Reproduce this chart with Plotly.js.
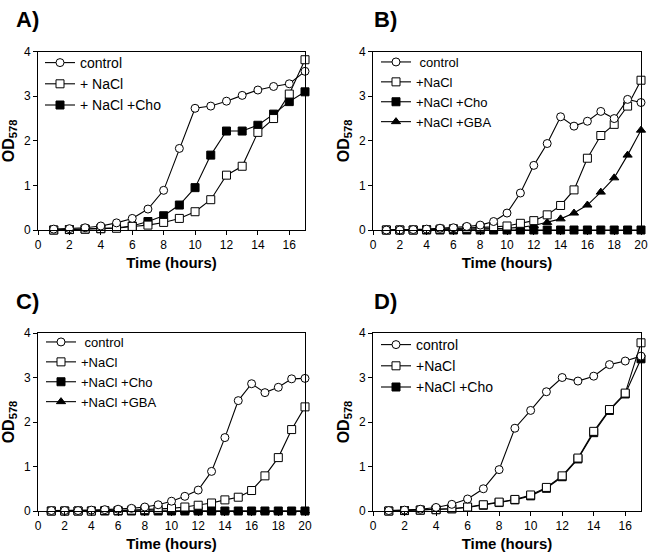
<!DOCTYPE html>
<html>
<head>
<meta charset="utf-8">
<script src="https://cdn.plot.ly/plotly-3.0.1.min.js"></script>
<style>html,body{margin:0;padding:0;background:#fff;}#chart{width:651px;height:555px;}</style>
</head>
<body>
<div id="chart"></div>
<script>
// ---- Data (OD578 readings) ----
const hoursA = [1,2,3,4,5,6,7,8,9,10,11,12,13,14,15,16,17];
const controlA = [0.02,0.03,0.05,0.09,0.16,0.26,0.47,0.89,1.83,2.73,2.78,2.89,3.02,3.14,3.22,3.28,3.56];
const naclA    = [0.00,0.01,0.02,0.03,0.04,0.08,0.11,0.17,0.26,0.41,0.68,1.23,1.43,2.19,2.50,3.05,3.82];
const choA     = [0.00,0.01,0.02,0.03,0.05,0.09,0.19,0.32,0.56,0.95,1.68,2.22,2.22,2.35,2.60,2.88,3.10];

const hoursB = [1,2,3,4,5,6,7,8,9,10,11,12,13,14,15,16,17,18,19,20];
const controlB = [0.00,0.00,0.01,0.02,0.04,0.05,0.08,0.11,0.19,0.38,0.83,1.45,1.94,2.54,2.33,2.44,2.66,2.50,2.93,2.86];
const naclB    = [0.00,0.00,0.00,0.01,0.02,0.03,0.04,0.05,0.07,0.09,0.15,0.21,0.34,0.55,0.90,1.61,2.12,2.37,2.78,3.36];
const choB     = [0.00,0.00,0.00,0.00,0.00,0.00,0.00,0.00,0.00,0.00,0.00,0.00,0.00,0.00,0.00,0.00,0.00,0.00,0.00,0.00];
const gbaB     = [0.00,0.00,0.00,0.00,0.01,0.01,0.02,0.02,0.03,0.04,0.06,0.10,0.17,0.25,0.38,0.56,0.85,1.17,1.68,2.24];

const hoursC = [1,2,3,4,5,6,7,8,9,10,11,12,13,14,15,16,17,18,19,20];
const controlC = [0.01,0.01,0.01,0.02,0.03,0.04,0.06,0.09,0.14,0.22,0.33,0.47,0.89,1.65,2.48,2.86,2.66,2.78,2.97,2.98];
const naclC    = [0.00,0.00,0.00,0.00,0.01,0.01,0.02,0.03,0.04,0.06,0.09,0.13,0.18,0.25,0.31,0.46,0.79,1.20,1.83,2.34];
const choC     = [0.00,0.00,0.00,0.00,0.00,0.00,0.00,0.00,0.00,0.00,0.00,0.00,0.00,0.00,0.00,0.00,0.00,0.00,0.00,0.00];
const gbaC     = [0.00,0.00,0.00,0.00,0.00,0.00,0.00,0.00,0.00,0.00,0.00,0.00,0.00,0.00,0.00,0.00,0.00,0.00,0.00,0.00];

const hoursD = [1,2,3,4,5,6,7,8,9,10,11,12,13,14,15,16,17];
const controlD = [0.01,0.02,0.04,0.08,0.15,0.27,0.50,0.93,1.86,2.26,2.68,3.00,2.92,3.03,3.29,3.37,3.48];
const naclD    = [0.00,0.01,0.02,0.03,0.05,0.09,0.14,0.20,0.26,0.36,0.53,0.79,1.19,1.79,2.28,2.65,3.78];
const choD     = [0.00,0.01,0.02,0.03,0.05,0.08,0.13,0.19,0.25,0.34,0.51,0.77,1.17,1.76,2.26,2.63,3.42];

const panelLabels = ['A)','B)','C)','D)'];
const xTitle = 'Time (hours)';
const yTitle = 'OD<sub>578</sub>';

// ---- Styles ----
const FONT = 'Liberation Sans, Arial, Helvetica, sans-serif';
const SYM = {
  control: {symbol:'circle', color:'#ffffff', rank:1},
  nacl:    {symbol:'square', color:'#ffffff', rank:2},
  cho:     {symbol:'square', color:'#000000', rank:3},
  gba:     {symbol:'triangle-up', color:'#000000', rank:4}
};
function tr(x, y, kind, name, ax, leg){
  return {
    type:'scatter', mode:'lines+markers', x:x, y:y, name:name,
    xaxis:'x'+(ax===1?'':ax), yaxis:'y'+(ax===1?'':ax),
    legend: leg, legendrank: SYM[kind].rank,
    line:{color:'#000', width:1.1},
    marker:{symbol:SYM[kind].symbol, color:SYM[kind].color, size:8, line:{color:'#000', width:1}},
    cliponaxis:false
  };
}

// drawn back-to-front: treatments first, control on top; legend order via legendrank
const data = [
  tr(hoursA, choA, 'cho', '+ NaCl +Cho', 1, 'legend'),
  tr(hoursA, naclA, 'nacl', '+ NaCl', 1, 'legend'),
  tr(hoursA, controlA, 'control', 'control', 1, 'legend'),

  tr(hoursB, gbaB, 'gba', '+NaCl +GBA', 2, 'legend2'),
  tr(hoursB, choB, 'cho', '+NaCl +Cho', 2, 'legend2'),
  tr(hoursB, naclB, 'nacl', '+NaCl', 2, 'legend2'),
  tr(hoursB, controlB, 'control', '&nbsp;control', 2, 'legend2'),

  tr(hoursC, gbaC, 'gba', '+NaCl +GBA', 3, 'legend3'),
  tr(hoursC, choC, 'cho', '+NaCl +Cho', 3, 'legend3'),
  tr(hoursC, naclC, 'nacl', '+NaCl', 3, 'legend3'),
  tr(hoursC, controlC, 'control', '&nbsp;control', 3, 'legend3'),

  tr(hoursD, choD, 'cho', '+NaCl +Cho', 4, 'legend4'),
  tr(hoursD, naclD, 'nacl', '+NaCl', 4, 'legend4'),
  tr(hoursD, controlD, 'control', 'control', 4, 'legend4')
];

const W = 651, H = 555;
const px = v => v / W;
const py = v => 1 - v / H;

const colL = [38, 305], colR = [373, 641];
const rowT = [51.7, 230], rowB = [333, 511];

function xax(dom, rng, anchor){
  return {
    domain:[px(dom[0]), px(dom[1])], range:rng, anchor:anchor,
    dtick:2, tick0:0, ticks:'outside', ticklen:4, tickwidth:1, tickcolor:'#000',
    showline:true, linecolor:'#000', linewidth:1, mirror:true,
    showgrid:false, zeroline:false, fixedrange:true,
    tickfont:{family:FONT, size:12, color:'#000'},
    title:{text:'<b>'+xTitle+'</b>', font:{family:FONT, size:15, color:'#000'}, standoff:6}
  };
}
function yax(dom, anchor){
  return {
    domain:[py(dom[1]), py(dom[0])], range:[0,4], anchor:anchor,
    dtick:1, tick0:0, ticks:'outside', ticklen:4, tickwidth:1, tickcolor:'#000',
    showline:true, linecolor:'#000', linewidth:1, mirror:true,
    showgrid:false, zeroline:false, fixedrange:true,
    tickfont:{family:FONT, size:12, color:'#000'},
    title:{text:'<b>'+yTitle+'</b>', font:{family:FONT, size:16, color:'#000'}, standoff:5}
  };
}
function leg(x, y, size){
  return {
    x:px(x), y:py(y), xanchor:'left', yanchor:'top',
    bgcolor:'rgba(0,0,0,0)', borderwidth:0, tracegroupgap:0, traceorder:'normal',
    font:{family:FONT, size:size, color:'#000'}, itemwidth:30
  };
}

const layout = {
  width:W, height:H, margin:{l:0, r:0, t:0, b:0},
  paper_bgcolor:'#fff', plot_bgcolor:'#fff',
  font:{family:FONT, color:'#000'},
  showlegend:true,
  xaxis: xax(colL, [0,17], 'y'),
  yaxis: yax(rowT, 'x'),
  xaxis2: xax(colR, [0,20], 'y2'),
  yaxis2: yax(rowT, 'x2'),
  xaxis3: xax(colL, [0,20], 'y3'),
  yaxis3: yax(rowB, 'x3'),
  xaxis4: xax(colR, [0,17], 'y4'),
  yaxis4: yax(rowB, 'x4'),
  legend: leg(40, 47, 14),
  legend2: leg(376, 47, 13),
  legend3: leg(41, 327, 13),
  legend4: leg(376, 329, 14),
  annotations: [
    {text:'<b>'+panelLabels[0]+'</b>', x:px(14), y:py(20), xref:'paper', yref:'paper', xanchor:'left', yanchor:'middle', showarrow:false, font:{family:FONT, size:22, color:'#000'}},
    {text:'<b>'+panelLabels[1]+'</b>', x:px(372), y:py(20), xref:'paper', yref:'paper', xanchor:'left', yanchor:'middle', showarrow:false, font:{family:FONT, size:22, color:'#000'}},
    {text:'<b>'+panelLabels[2]+'</b>', x:px(14), y:py(301), xref:'paper', yref:'paper', xanchor:'left', yanchor:'middle', showarrow:false, font:{family:FONT, size:22, color:'#000'}},
    {text:'<b>'+panelLabels[3]+'</b>', x:px(372), y:py(301), xref:'paper', yref:'paper', xanchor:'left', yanchor:'middle', showarrow:false, font:{family:FONT, size:22, color:'#000'}}
  ]
};

Plotly.newPlot('chart', data, layout, {staticPlot:true, displayModeBar:false});
</script>
</body>
</html>
